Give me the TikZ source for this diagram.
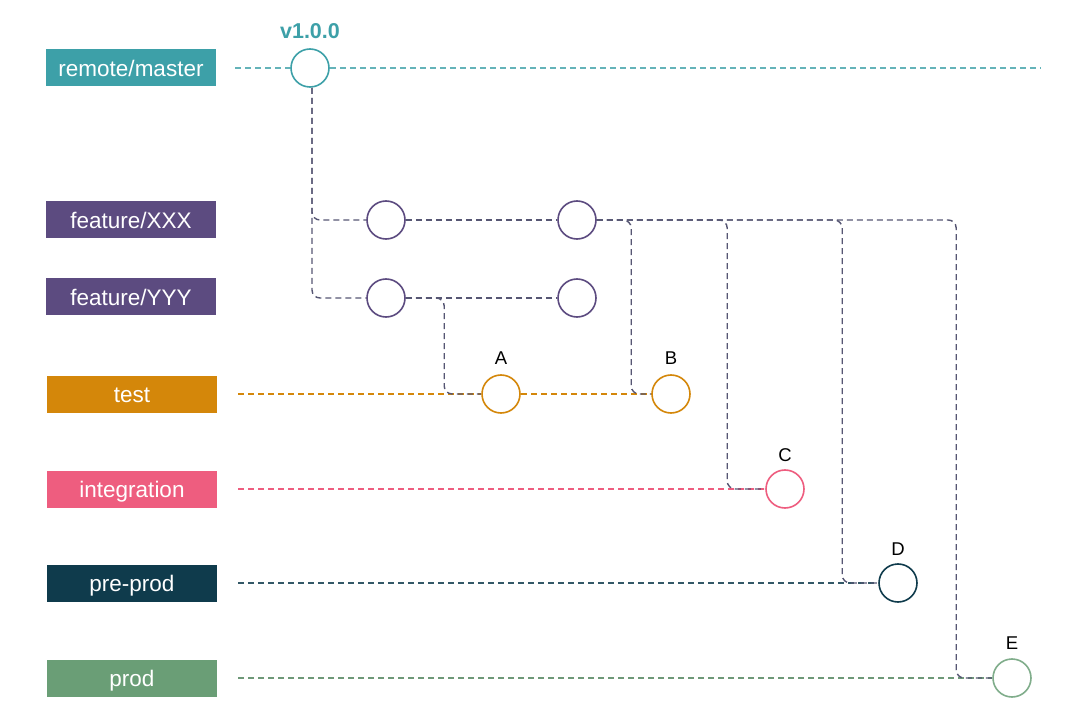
\documentclass[tikz,border=0pt]{standalone}
\usepackage{fontspec}
\setmainfont{Liberation Sans}
\usetikzlibrary{positioning,calc}
\definecolor{cteal}{HTML}{3DA0A8}
\definecolor{cpurp}{HTML}{5C4B80}
\definecolor{corange}{HTML}{D4870A}
\definecolor{cpink}{HTML}{EE5D7F}
\definecolor{cdark}{HTML}{0F3B4C}
\definecolor{cgreen}{HTML}{6A9E76}
\definecolor{cline}{HTML}{565673}
\tikzset{
  lbl/.style={rectangle,fill=#1,text=white,minimum width=170pt,minimum height=37pt,inner sep=0pt,text height=17pt,text depth=0pt,font=\fontsize{22.5}{26}\selectfont},
  commit/.style={circle,draw=#1,line width=1.6pt,fill=white,minimum size=38pt,inner sep=0pt},
  dline/.style={dashed,dash pattern=on 6pt off 4pt,line width=1.4pt,draw=#1},
  conn/.style={dline=cline,rounded corners=8pt},
  tag/.style={font=\fontsize{18.5}{22}\selectfont,text=black},
}
\begin{document}
\begin{tikzpicture}[x=1pt,y=-1pt]
\useasboundingbox (0,0) rectangle (1080,722);
% branch labels
\node[lbl=cteal] (rm) at (131,68) {remote/master};
\node[lbl=cpurp] (fx) at (131,220) {feature/XXX};
\node[lbl=cpurp] (fy) at (131,297) {feature/YYY};
\node[lbl=corange] (te) at (132,394) {test};
\node[lbl=cpink] (in) at (132,489) {integration};
\node[lbl=cdark] (pp) at (132,583) {pre-prod};
\node[lbl=cgreen] (pr) at (132,678) {prod};
% end of master line
\coordinate (mend) at (1040,68);
% commits
\node[commit=cteal] (v) at (310,68) {};
\node[font=\bfseries\fontsize{21.5}{24}\selectfont,text=cteal] (vl) at (310,31) {v1.0.0};
\node[commit=cpurp] (f1) at (386,220) {};
\node[commit=cpurp] (f2) at (577,220) {};
\node[commit=cpurp] (y1) at (386,298) {};
\node[commit=cpurp] (y2) at (577,298) {};
\node[commit=corange] (a) at (501,394) {};
\node[commit=corange] (b) at (671,394) {};
\node[commit=cpink] (c) at (785,489) {};
\node[commit=cdark] (d) at (898,583) {};
\node[commit=cgreen!85!white] (e) at (1012,678) {};
\node[tag] at (501,358) {A};
\node[tag] at (671,358) {B};
\node[tag] at (785,455) {C};
\node[tag] at (898,549) {D};
\node[tag] at (1012,643) {E};
% branch lines
\draw[dline=cteal!80!white,shorten <=19pt] (rm.east) -- (v.west);
\draw[dline=cteal!80!white] (v.east) -- (mend);
\draw[dline=corange,shorten <=21pt] (te.east) -- (a.west);
\draw[dline=corange] (a.east) -- (b.west);
\draw[dline=cpink,shorten <=21pt] (in.east) -- (c.west);
\draw[dline=cdark!85!white,shorten <=21pt] (pp.east) -- (d.west);
\draw[dline=cgreen!80!gray,shorten <=21pt] (pr.east) -- (e.west);
% feature connections
\draw[conn] ([xshift=2pt]v.south) |- (f1.west);
\draw[conn] ([xshift=2pt]v.south) |- (y1.west);
\draw[conn] (f1.east) -- (f2.west);
\draw[conn] (y1.east) -- (y2.west);
\draw[conn] (y1.east) -| ([xshift=-37pt]a.west) -- (a.west);
\draw[conn] (f2.east) -| ([xshift=-20pt]b.west) -- (b.west);
\draw[conn] (f2.east) -| ([xshift=-38pt]c.west) -- (c.west);
\draw[conn] (f2.east) -| ([xshift=-36pt]d.west) -- (d.west);
\draw[conn] (f2.east) -| ([xshift=-36pt]e.west) -- (e.west);
\end{tikzpicture}
\end{document}
